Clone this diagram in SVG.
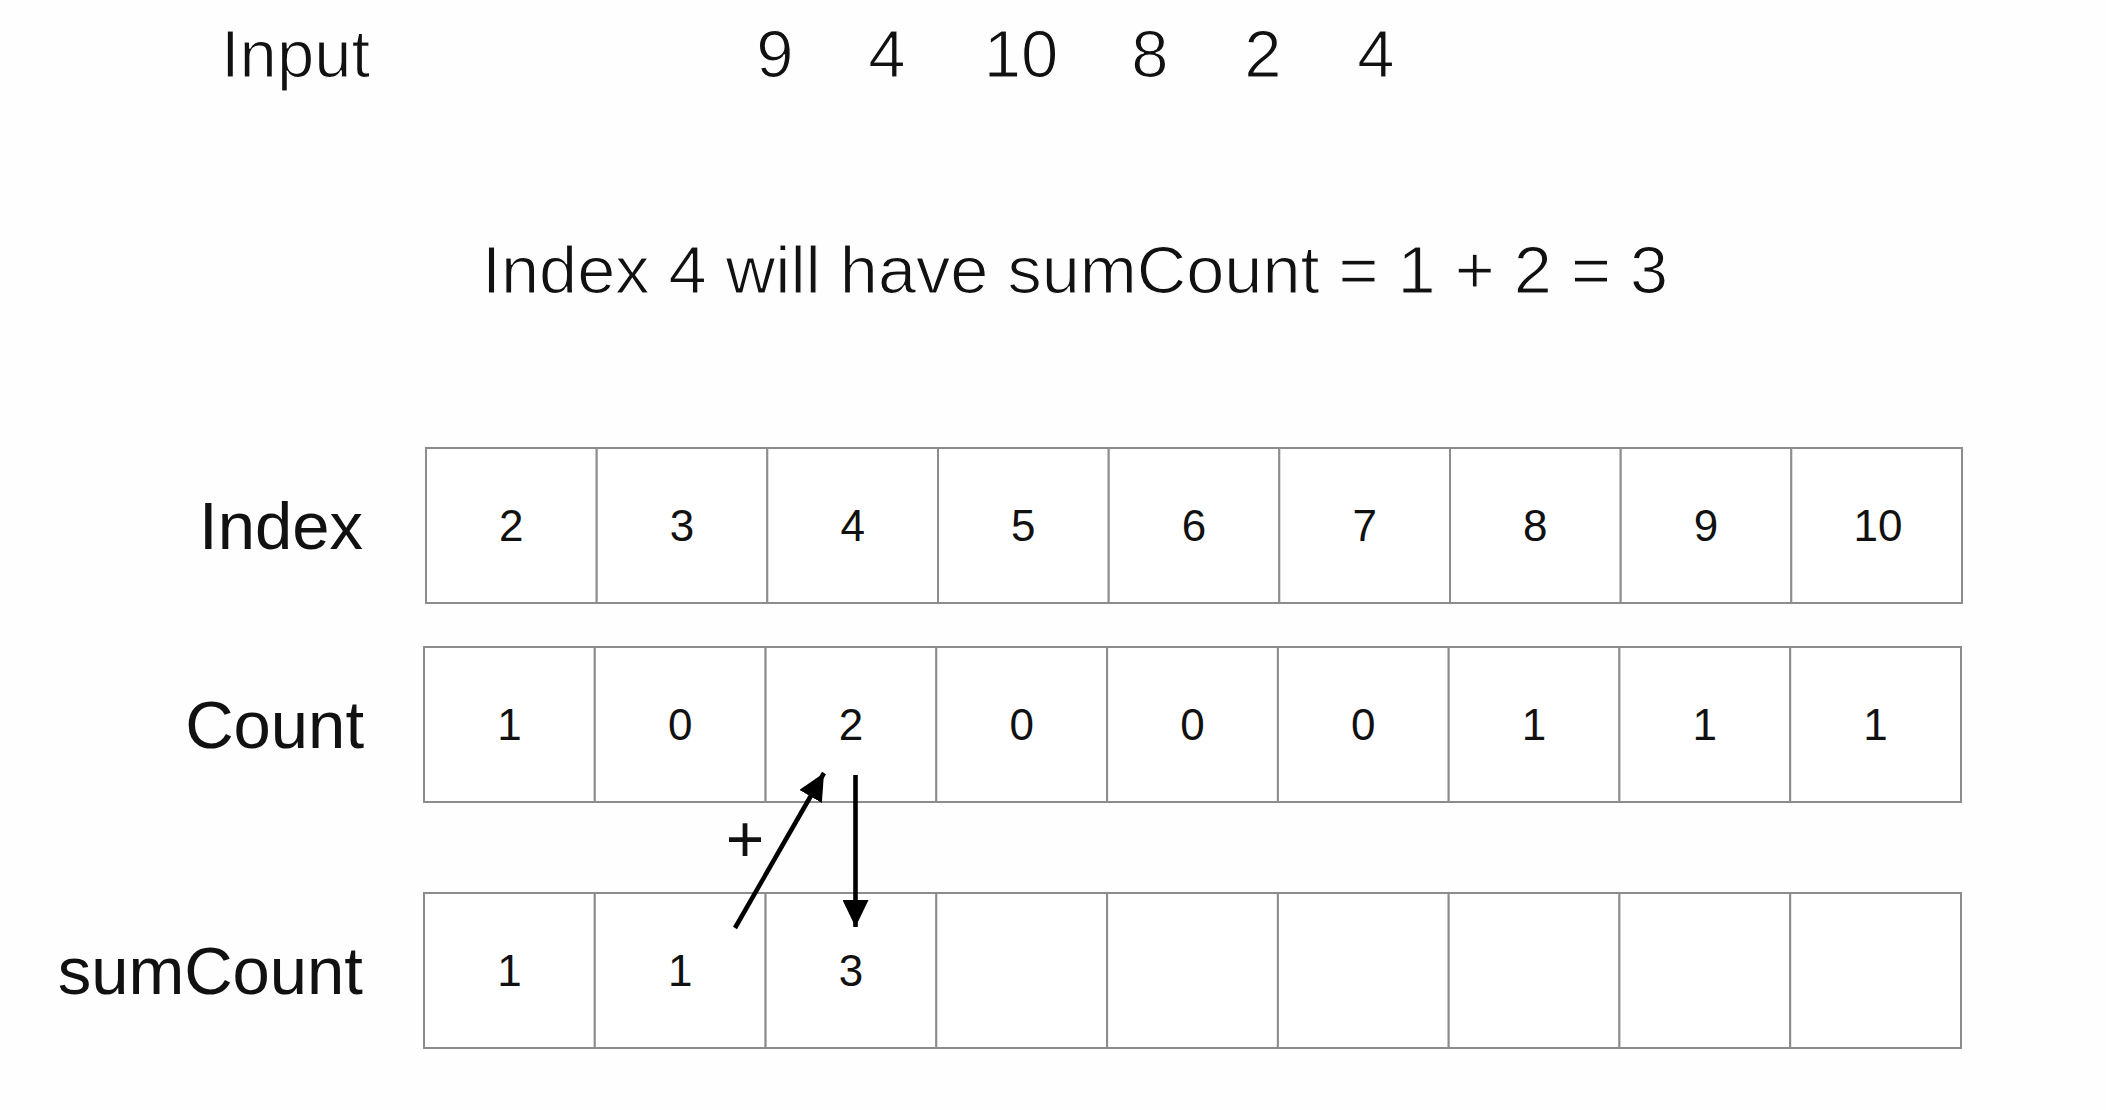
<svg xmlns="http://www.w3.org/2000/svg" width="2106" height="1110" viewBox="0 0 2106 1110">
<style>
.t{font-family:"Liberation Sans",Arial,sans-serif;fill:#111}
.big{font-size:67px}
.light{stroke:#fefefe;stroke-width:1.2px}
.num{font-size:44px;text-anchor:middle}
.cell{fill:#ffffff;stroke:#8c8c8c;stroke-width:2}
.arr{stroke:#000;stroke-width:4.6;fill:none}
</style>
<defs>
<marker id="ah" markerUnits="userSpaceOnUse" markerWidth="28" markerHeight="26" refX="27" refY="13" orient="auto" viewBox="0 0 28 26">
<path d="M0,0 L27,13 L0,26 z" fill="#000"/>
</marker>
</defs>
<rect width="2106" height="1110" fill="#fefefe"/>
<g id="input-row">
<text class="t big light" x="221" y="77">Input</text>
<text class="t big light" x="775" y="77" text-anchor="middle">9</text>
<text class="t big light" x="887" y="77" text-anchor="middle">4</text>
<text class="t big light" x="1021" y="77" text-anchor="middle">10</text>
<text class="t big light" x="1150" y="77" text-anchor="middle">8</text>
<text class="t big light" x="1263" y="77" text-anchor="middle">2</text>
<text class="t big light" x="1376" y="77" text-anchor="middle">4</text>
</g>
<g id="caption">
<text class="t big light" x="482" y="293" textLength="1186" lengthAdjust="spacingAndGlyphs">Index 4 will have sumCount = 1 + 2 = 3</text>
</g>
<g id="labels">
<text class="t big" x="363" y="549" text-anchor="end">Index</text>
<text class="t big" x="364" y="748" text-anchor="end">Count</text>
<text class="t big" x="363" y="994" text-anchor="end">sumCount</text>
</g>
<g id="index-row">
<g id="idx-0"><rect class="cell" x="426" y="448" width="170.7" height="155"/><text class="t num" x="511.3" y="541">2</text></g>
<g id="idx-1"><rect class="cell" x="596.7" y="448" width="170.7" height="155"/><text class="t num" x="682" y="541">3</text></g>
<g id="idx-2"><rect class="cell" x="767.3" y="448" width="170.7" height="155"/><text class="t num" x="852.7" y="541">4</text></g>
<g id="idx-3"><rect class="cell" x="938" y="448" width="170.7" height="155"/><text class="t num" x="1023.3" y="541">5</text></g>
<g id="idx-4"><rect class="cell" x="1108.7" y="448" width="170.7" height="155"/><text class="t num" x="1194" y="541">6</text></g>
<g id="idx-5"><rect class="cell" x="1279.3" y="448" width="170.7" height="155"/><text class="t num" x="1364.7" y="541">7</text></g>
<g id="idx-6"><rect class="cell" x="1450" y="448" width="170.7" height="155"/><text class="t num" x="1535.3" y="541">8</text></g>
<g id="idx-7"><rect class="cell" x="1620.7" y="448" width="170.7" height="155"/><text class="t num" x="1706" y="541">9</text></g>
<g id="idx-8"><rect class="cell" x="1791.3" y="448" width="170.7" height="155"/><text class="t num" x="1878" y="541">10</text></g>
</g>
<g id="count-row">
<g id="cnt-0"><rect class="cell" x="424" y="647" width="170.8" height="155"/><text class="t num" x="509.4" y="740">1</text></g>
<g id="cnt-1"><rect class="cell" x="594.8" y="647" width="170.8" height="155"/><text class="t num" x="680.2" y="740">0</text></g>
<g id="cnt-2"><rect class="cell" x="765.6" y="647" width="170.8" height="155"/><text class="t num" x="851" y="740">2</text></g>
<g id="cnt-3"><rect class="cell" x="936.3" y="647" width="170.8" height="155"/><text class="t num" x="1021.7" y="740">0</text></g>
<g id="cnt-4"><rect class="cell" x="1107.1" y="647" width="170.8" height="155"/><text class="t num" x="1192.5" y="740">0</text></g>
<g id="cnt-5"><rect class="cell" x="1277.9" y="647" width="170.8" height="155"/><text class="t num" x="1363.3" y="740">0</text></g>
<g id="cnt-6"><rect class="cell" x="1448.7" y="647" width="170.8" height="155"/><text class="t num" x="1534.1" y="740">1</text></g>
<g id="cnt-7"><rect class="cell" x="1619.4" y="647" width="170.8" height="155"/><text class="t num" x="1704.8" y="740">1</text></g>
<g id="cnt-8"><rect class="cell" x="1790.2" y="647" width="170.8" height="155"/><text class="t num" x="1875.6" y="740">1</text></g>
</g>
<g id="sumcount-row">
<g id="sum-0"><rect class="cell" x="424" y="893" width="170.8" height="155"/><text class="t num" x="509.4" y="986">1</text></g>
<g id="sum-1"><rect class="cell" x="594.8" y="893" width="170.8" height="155"/><text class="t num" x="680.2" y="986">1</text></g>
<g id="sum-2"><rect class="cell" x="765.6" y="893" width="170.8" height="155"/><text class="t num" x="851" y="986">3</text></g>
<g id="sum-3"><rect class="cell" x="936.3" y="893" width="170.8" height="155"/></g>
<g id="sum-4"><rect class="cell" x="1107.1" y="893" width="170.8" height="155"/></g>
<g id="sum-5"><rect class="cell" x="1277.9" y="893" width="170.8" height="155"/></g>
<g id="sum-6"><rect class="cell" x="1448.7" y="893" width="170.8" height="155"/></g>
<g id="sum-7"><rect class="cell" x="1619.4" y="893" width="170.8" height="155"/></g>
<g id="sum-8"><rect class="cell" x="1790.2" y="893" width="170.8" height="155"/></g>
</g>
<g id="connectors">
<line class="arr" x1="735" y1="928" x2="824" y2="773" marker-end="url(#ah)"/>
<line class="arr" x1="855.5" y1="775" x2="855.5" y2="927" marker-end="url(#ah)"/>
<text class="t" x="745" y="862" font-size="66" text-anchor="middle">+</text>
</g>
</svg>
